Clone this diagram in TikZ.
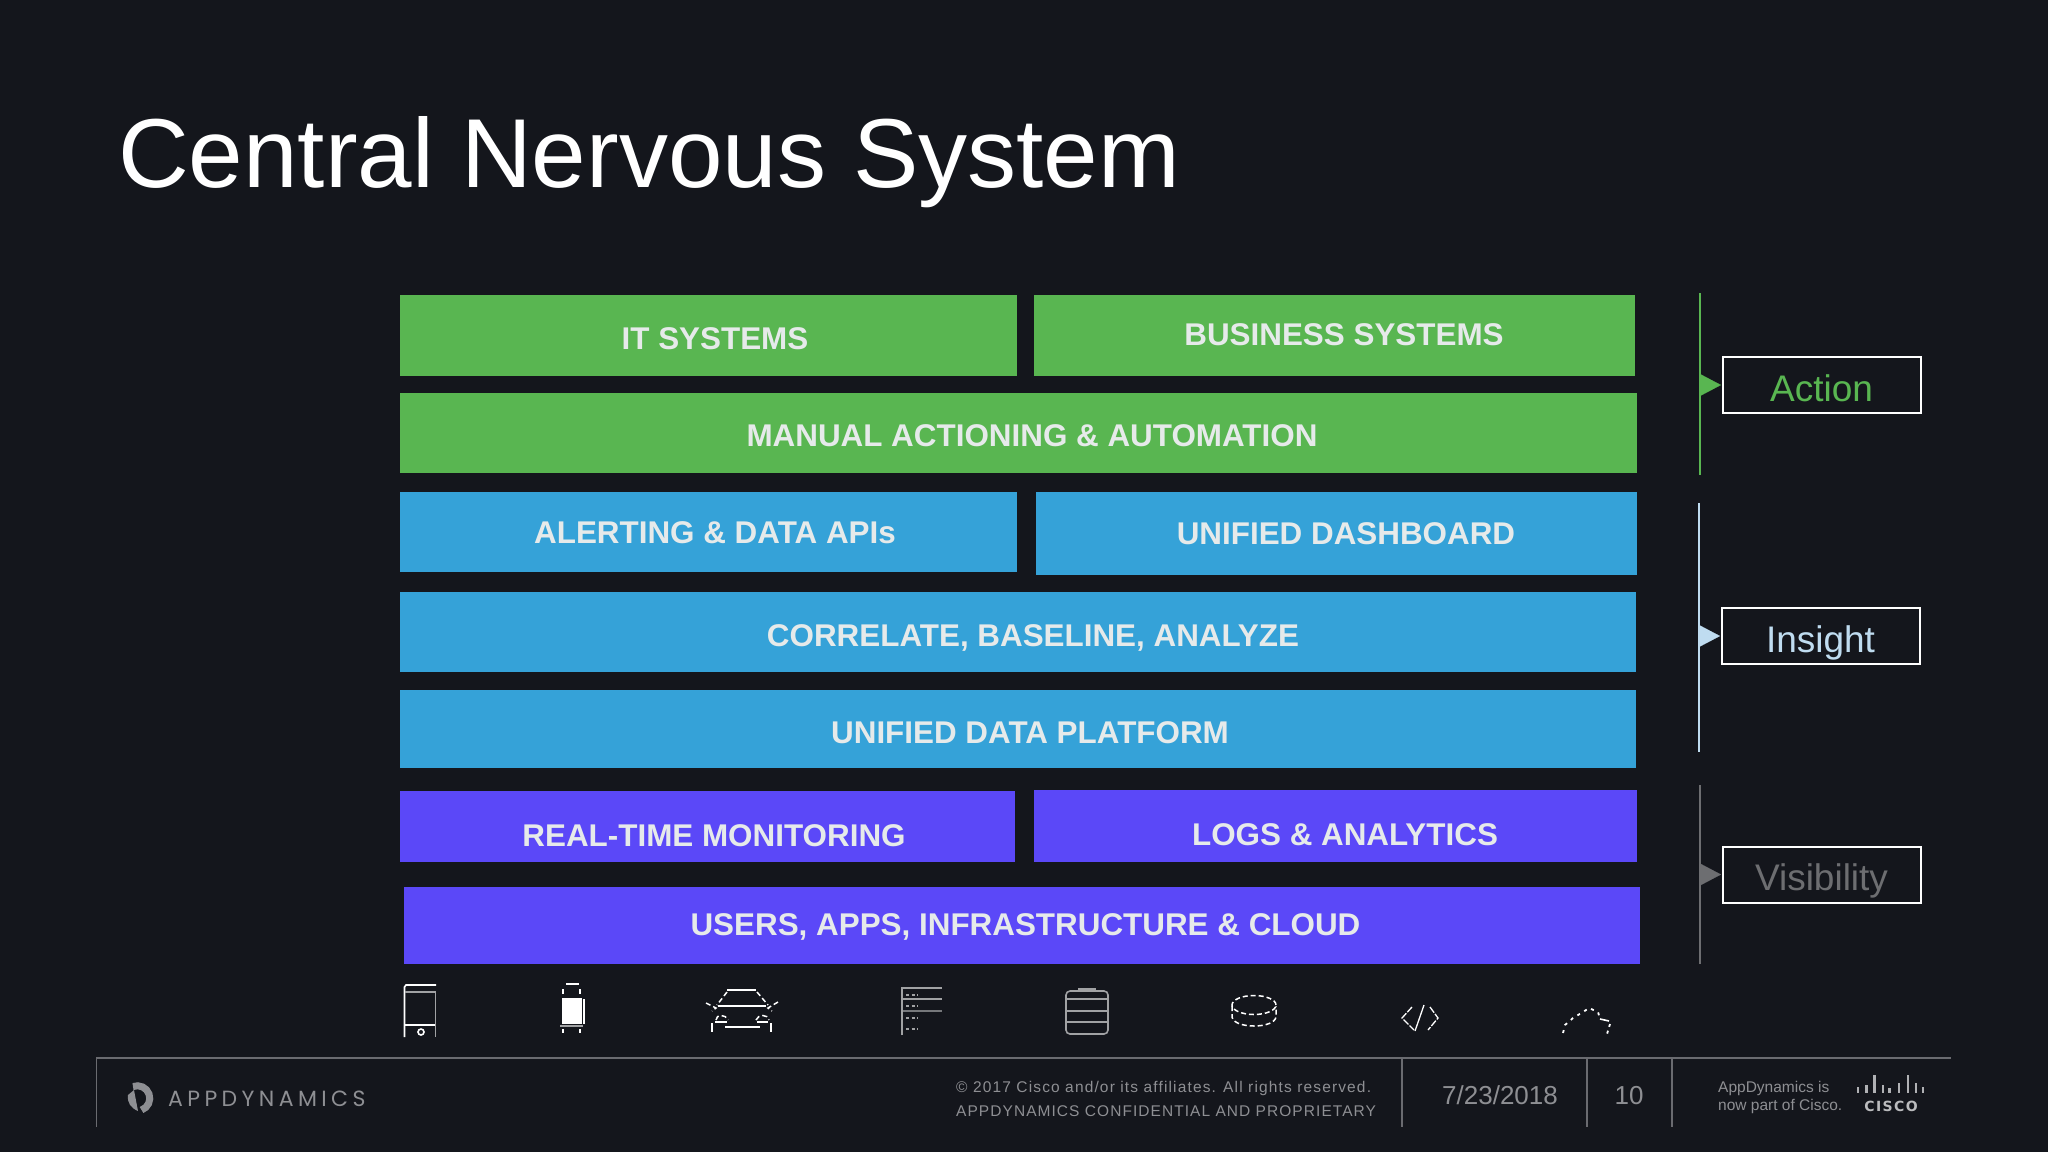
\documentclass[tikz,border=0pt]{standalone}
\usepackage{fontspec}
\setmainfont{Liberation Sans}
\newfontfamily\logofont[LetterSpace=20]{Poppins}
\newfontfamily\ciscofont[LetterSpace=10]{DejaVu Sans}
\newfontfamily\legalfont[LetterSpace=7.4]{Liberation Sans}
\newfontfamily\legalcaps[LetterSpace=6.8]{Liberation Sans}
\usetikzlibrary{arrows.meta}
\definecolor{slide}{HTML}{14161C}
\definecolor{actgreen}{HTML}{59B651}
\definecolor{insblue}{HTML}{35A2D8}
\definecolor{vispurple}{HTML}{5B48F8}
\definecolor{barwhite}{HTML}{E6EAEA}
\definecolor{tagblue}{HTML}{BFDCF0}
\definecolor{taggrey}{HTML}{6D6E71}
\definecolor{footgrey}{HTML}{8E8F93}
\definecolor{rulegrey}{HTML}{6A6B70}
\tikzset{
  bar/.style      = {shape=rectangle, anchor=north west, inner sep=0pt},
  greenbar/.style = {bar, fill=actgreen},
  bluebar/.style  = {bar, fill=insblue},
  purplebar/.style= {bar, fill=vispurple},
  bartext/.style  = {text=barwhite, font=\fontsize{31.4}{32}\selectfont\bfseries, inner sep=0pt},
  tagbox/.style   = {shape=rectangle, draw=white, line width=2pt, inner sep=0pt,
                     minimum width=198pt, minimum height=56pt, fill=slide,
                     text height=32pt, text depth=0pt,
                     font=\fontsize{37}{38}\selectfont},
  footer/.style   = {text=footgrey, inner sep=0pt},
  tagline/.style  = {line width=2pt},
  tagarrow/.style = {-{Triangle[length=21pt,width=22pt]}, line width=0.1pt, shorten >=0.5pt},
  icon/.style     = {draw=white, line width=1.6pt},
  dimicon/.style  = {draw=white!60!slide, line width=1.6pt},
  dashicon/.style = {draw=white, line width=1.5pt, dash pattern=on 5pt off 3pt},
  footrule/.style = {draw=rulegrey, line width=1.5pt}
}
\begin{document}
\begin{tikzpicture}[x=1pt,y=-1pt]
  \fill[slide] (0,0) rectangle (2048,1152);
  \useasboundingbox (0,0) rectangle (2048,1152);
  \node[anchor=base west, inner sep=0pt, text=white, font=\fontsize{98}{98}\selectfont] (title) at (118,187) {Central Nervous System};

  % stack of bars
  \node[greenbar, minimum width=617pt, minimum height=81pt] (itbox) at (400,295) {};
  \node[greenbar, minimum width=601pt, minimum height=81pt] (bizbox) at (1034,295) {};
  \node[greenbar, minimum width=1237pt, minimum height=80pt] (manualbox) at (400,393) {};
  \node[bluebar, minimum width=617pt, minimum height=80pt] (alertbox) at (400,492) {};
  \node[bluebar, minimum width=601pt, minimum height=83pt] (dashbox) at (1036,492) {};
  \node[bluebar, minimum width=1236pt, minimum height=80pt] (corrbox) at (400,591.5) {};
  \node[bluebar, minimum width=1236pt, minimum height=78pt] (databox) at (400,689.5) {};
  \node[purplebar, minimum width=615pt, minimum height=71pt] (realbox) at (400,791) {};
  \node[purplebar, minimum width=603pt, minimum height=72pt] (logsbox) at (1034,790) {};
  \node[purplebar, minimum width=1236pt, minimum height=77pt] (usersbox) at (404,887) {};

  \node[bartext] (ittext) at (715,339) {IT SYSTEMS};
  \node[bartext] (biztext) at (1344,335) {BUSINESS SYSTEMS};
  \node[bartext] (manualtext) at (1032,436) {MANUAL ACTIONING \& AUTOMATION};
  \node[bartext] (alerttext) at (715,533) {ALERTING \& DATA APIs};
  \node[bartext] (dashtext) at (1346,534) {UNIFIED DASHBOARD};
  \node[bartext] (corrtext) at (1033,637.5) {CORRELATE, BASELINE, ANALYZE};
  \node[bartext] (datatext) at (1030,733) {UNIFIED DATA PLATFORM};
  \node[bartext] (realtext) at (714,835.5) {REAL-TIME MONITORING};
  \node[bartext] (logstext) at (1345,835) {LOGS \& ANALYTICS};
  \node[bartext] (userstext) at (1025.5,926.5) {USERS, APPS, INFRASTRUCTURE \& CLOUD};

  % tags on the right
  \node[tagbox, text=actgreen] (action) at (1821.5,385) {Action};
  \node[tagbox, text=tagblue] (insight) at (1820.5,636) {Insight};
  \node[tagbox, text=taggrey] (visibility) at (1821.5,874.5) {Visibility};
  \coordinate (actiontop) at (1700,293);
  \coordinate (actionbot) at (1700,475);
  \coordinate (actionfoot) at (1700,385);
  \coordinate (insighttop) at (1699,503);
  \coordinate (insightbot) at (1699,752);
  \coordinate (insightfoot) at (1699,636);
  \coordinate (visibilitytop) at (1699.5,785);
  \coordinate (visibilitybot) at (1699.5,964);
  \coordinate (visibilityfoot) at (1699.5,874.5);
  \draw[tagline, actgreen] (actiontop) -- (actionbot);
  \draw[tagline, tagblue] (insighttop) -- (insightbot);
  \draw[tagline, taggrey] (visibilitytop) -- (visibilitybot);
  \draw[tagarrow, actgreen] (actionfoot) -- (action.west);
  \draw[tagarrow, tagblue] (insightfoot) -- (insight.west);
  \draw[tagarrow, taggrey] (visibilityfoot) -- (visibility.west);

  % icons along the bottom
  \draw[icon] (404.5,1037) -- (404.5,987) -- (406,985) -- (436,985);
  \draw[dimicon] (405,992) -- (436,992);
  \draw[icon] (405,1025) -- (436,1025);
  \draw[dimicon] (435.5,992) -- (435.5,1037);
  \draw[icon] (421,1032) circle (3pt);

  \fill[white] (562,998) rectangle (582,1024);
  \draw[dimicon] (560,1026) -- (583,1026);
  \draw[icon] (584,999) -- (584,1024);
  \draw[icon] (566,984) -- (579,984);
  \draw[icon] (563,989) -- (563,994) (580,989) -- (580,994) (563,1029) -- (563,1033) (580,1029) -- (580,1033);

  \draw[icon] (727,990) -- (756,990) (718,1006) -- (766,1006) (725,1027) -- (760,1027);
  \draw[dashicon] (727,992) -- (717,1005) (757,992) -- (768,1005);
  \draw[dashicon] (706,1003) -- (716,1008) -- (712,1011) (778,1002) -- (768,1008) -- (772,1011);
  \draw[icon] (712,1023) -- (712,1032) (771,1023) -- (771,1032);
  \draw[icon] (715,1022) -- (727,1022) (757,1022) -- (768,1022);
  \draw[dashicon] (716,1020) .. controls (716,1014) and (726,1014) .. (728,1020);
  \draw[dashicon] (756,1020) .. controls (758,1014) and (768,1014) .. (769,1020);

  \draw[dimicon] (902,1035) -- (902,988) -- (942,988) (902,999) -- (942,999);
  \draw[dimicon, draw opacity=0.7] (902,1011) -- (942,1011);
  \foreach \rowy in {995,1006,1018,1029}
    \draw[dimicon, dash pattern=on 3pt off 2.5pt, line width=2pt] (906,\rowy) -- (918,\rowy);

  \draw[dimicon, rounded corners=4pt] (1066,991) rectangle (1108,1034);
  \draw[dimicon] (1078,989) -- (1096,989);
  \draw[dimicon] (1066,999) -- (1108,999) (1066,1011) -- (1108,1011) (1066,1022) -- (1108,1022);

  \draw[dashicon] (1254,1005) ellipse (22pt and 9.5pt);
  \draw[dashicon] (1232,1006) -- (1232,1017) .. controls (1234,1029) and (1274,1029) .. (1276,1017) -- (1276,1006);

  \draw[icon, line width=1.3pt, dash pattern=on 7pt off 1.5pt] (1412,1007) -- (1402,1018) -- (1414,1030);
  \draw[icon, line width=1.3pt, dash pattern=on 7pt off 1.5pt] (1430,1007) -- (1438,1018) -- (1428,1030);
  \draw[icon, line width=1.3pt] (1424,1005) -- (1415,1031);

  \draw[dashicon, dash pattern=on 3pt off 5pt, line width=1.8pt] (1563,1033) -- (1565,1025) -- (1573,1018) -- (1583,1012) -- (1589,1008) -- (1598,1012) -- (1600,1019);
  \draw[icon] (1600,1019) -- (1609,1021);
  \draw[dashicon, dash pattern=on 3pt off 4pt, line width=1.8pt] (1610,1024) -- (1607,1034);

  % footer
  \coordinate (footleft) at (96.5,1058);
  \coordinate (footright) at (1951,1058);
  \coordinate (foota) at (1402,1058);
  \coordinate (footb) at (1587,1058);
  \coordinate (footc) at (1672,1058);
  \draw[footrule] (96.5,1127) -- (footleft) -- (footright);
  \draw[footrule] (foota) -- +(0,69);
  \draw[footrule] (footb) -- +(0,69);
  \draw[footrule] (footc) -- +(0,69);

  \draw[footgrey, line width=7pt] (133,1086.5) arc[start angle=110, end angle=-70, radius=12.5pt];
  \fill[footgrey] (134,1090) -- (128,1095) .. controls (127,1103) and (131,1108) .. (138,1111) -- cycle;
  \node[footer, anchor=west, font=\logofont\fontsize{22}{22}\selectfont] (brand) at (168,1099) {APPDYNAMICS};

  \node[footer, anchor=west, font=\legalfont\fontsize{15.5}{15.5}\selectfont] (legala) at (956,1088.5) {© 2017 Cisco and/or its affiliates. All rights reserved.};
  \node[footer, anchor=west, font=\legalcaps\fontsize{15.5}{15.5}\selectfont] (legalb) at (956,1111) {APPDYNAMICS CONFIDENTIAL AND PROPRIETARY};
  \node[footer, font=\fontsize{26}{26}\selectfont] (date) at (1500,1095) {7/23/2018};
  \node[footer, font=\fontsize{26}{26}\selectfont] (page) at (1629,1096) {10};
  \node[footer, anchor=west, font=\fontsize{15.5}{15.5}\selectfont] (parta) at (1718,1088.5) {AppDynamics is};
  \node[footer, anchor=west, font=\fontsize{15.5}{15.5}\selectfont] (partb) at (1718,1106.5) {now part of Cisco.};

  \foreach \barx/\bary in {1858/1087,1866.5/1085,1874.5/1075,1883/1085,1889.5/1088,1899/1083,1908/1075,1916/1083,1923/1087}
    \draw[footgrey!70!white, line width=2.2pt] (\barx,\bary) -- (\barx,1093);
  \node[footer, text=footgrey!60!white, font=\ciscofont\bfseries\fontsize{14}{14}\selectfont] (ciscoword) at (1891,1106) {CISCO};
\end{tikzpicture}
\end{document}
